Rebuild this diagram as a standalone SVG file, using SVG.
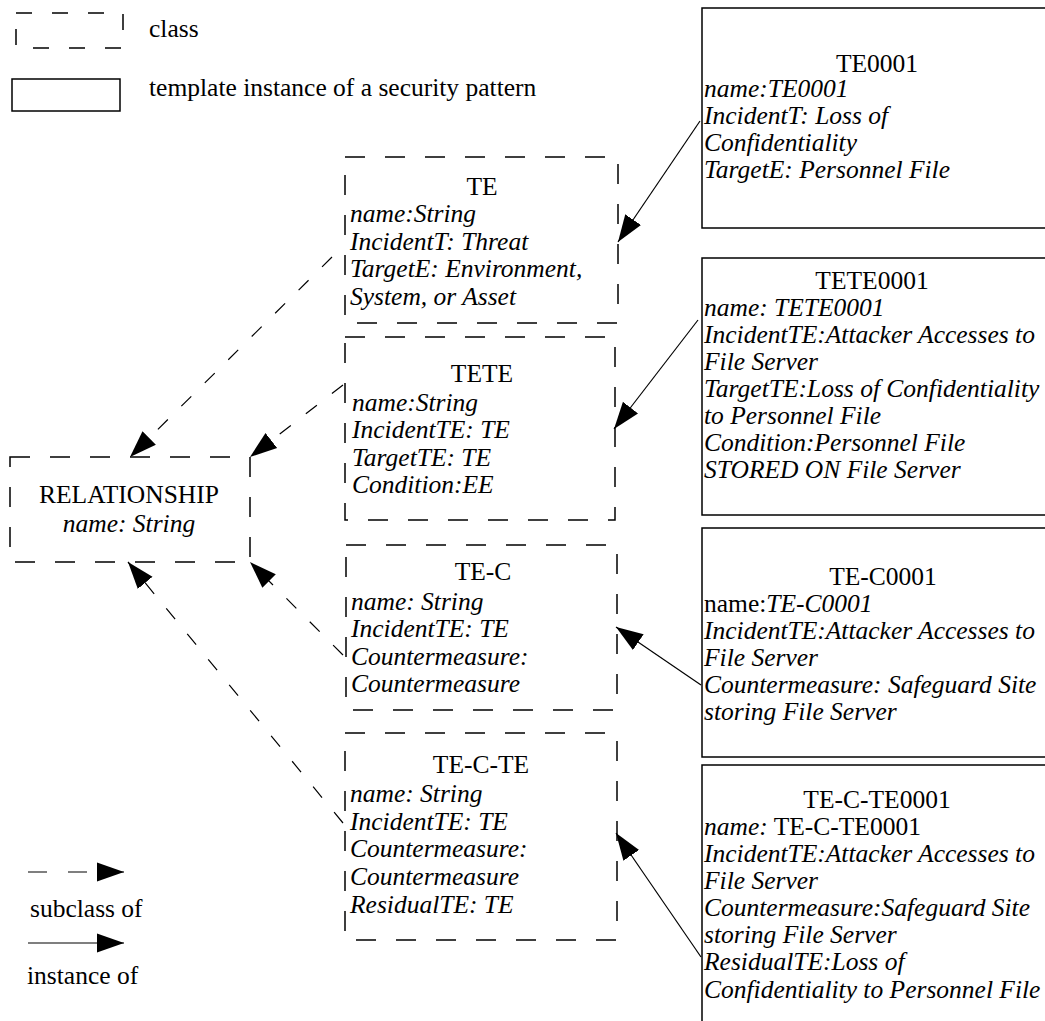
<svg xmlns="http://www.w3.org/2000/svg" width="1045" height="1021" viewBox="0 0 1045 1021">
<defs>
<style>
text{font-family:"Liberation Serif","Times New Roman",serif;font-size:25.5px;fill:#000}
.i{font-style:italic}
.t{text-anchor:middle}
.cls{fill:none;stroke:#000;stroke-width:1.5;stroke-dasharray:20 20}
.inst{fill:#fff;stroke:#000;stroke-width:1.5}
.sub{fill:none;stroke:#000;stroke-width:1.2;stroke-dasharray:14 19}
.ins{fill:none;stroke:#000;stroke-width:1.2}
</style>
<marker id="ah" markerUnits="userSpaceOnUse" markerWidth="28" markerHeight="22" refX="27" refY="11" orient="auto" viewBox="0 0 28 22">
<path d="M0,1.5 L27,11 L0,20.5 Z" fill="#000"/>
</marker>
</defs>
<rect width="1045" height="1021" fill="#fff"/>

<g id="legend">
<rect x="16" y="13" width="107" height="35" fill="none" stroke="#000" stroke-width="1.5" stroke-dasharray="16 20"/>
<text x="149" y="37">class</text>
<rect x="12" y="79" width="108" height="32" class="inst"/>
<text x="149" y="96">template instance of a security pattern</text>
<line x1="28" y1="872" x2="124" y2="872" class="sub" marker-end="url(#ah)" style="stroke-dasharray:19 21"/>
<text x="30" y="917">subclass of</text>
<line x1="28" y1="943" x2="124" y2="943" class="ins" marker-end="url(#ah)"/>
<text x="27" y="984">instance of</text>
</g>

<g id="connectors">
<line x1="332" y1="257" x2="130" y2="457" class="sub" marker-end="url(#ah)"/>
<line x1="343" y1="385" x2="250" y2="457" class="sub" marker-end="url(#ah)"/>
<line x1="343" y1="655" x2="250" y2="562" class="sub" marker-end="url(#ah)"/>
<line x1="343" y1="823" x2="128" y2="562" class="sub" marker-end="url(#ah)"/>
<line x1="700" y1="121" x2="618" y2="242" class="ins" marker-end="url(#ah)"/>
<line x1="698" y1="320" x2="614" y2="429" class="ins" marker-end="url(#ah)"/>
<line x1="701" y1="685" x2="616" y2="627" class="ins" marker-end="url(#ah)"/>
<line x1="701" y1="957" x2="616" y2="833" class="ins" marker-end="url(#ah)"/>
</g>

<g id="relationship">
<rect x="10" y="457" width="240" height="105" class="cls"/>
<text x="129" y="503" class="t">RELATIONSHIP</text>
<text x="129" y="532" class="t i">name: String</text>
</g>

<g id="te">
<rect x="345" y="157" width="273" height="166" class="cls"/>
<text x="482" y="195" class="t">TE</text>
<text x="350" y="222" class="i">name:String</text>
<text x="350" y="250" class="i">IncidentT: Threat</text>
<text x="350" y="277" class="i">TargetE: Environment,</text>
<text x="350" y="305" class="i">System, or Asset</text>
</g>

<g id="tete">
<rect x="345" y="337" width="270" height="183" class="cls"/>
<text x="482" y="382" class="t">TETE</text>
<text x="352" y="411" class="i">name:String</text>
<text x="352" y="438" class="i">IncidentTE: TE</text>
<text x="352" y="466" class="i">TargetTE: TE</text>
<text x="352" y="493" class="i">Condition:EE</text>
</g>

<g id="tec">
<rect x="346" y="545" width="271" height="165" class="cls"/>
<text x="483" y="580" class="t">TE-C</text>
<text x="351" y="610" class="i">name: String</text>
<text x="351" y="637" class="i">IncidentTE: TE</text>
<text x="351" y="665" class="i">Countermeasure:</text>
<text x="351" y="692" class="i">Countermeasure</text>
</g>

<g id="tecte">
<rect x="345" y="733" width="272" height="207" class="cls"/>
<text x="481" y="773" class="t">TE-C-TE</text>
<text x="350" y="802" class="i">name: String</text>
<text x="350" y="830" class="i">IncidentTE: TE</text>
<text x="350" y="857" class="i">Countermeasure:</text>
<text x="350" y="885" class="i">Countermeasure</text>
<text x="350" y="913" class="i">ResidualTE: TE</text>
</g>

<g id="te0001">
<rect x="702" y="8" width="360" height="220" class="inst"/>
<text x="877" y="72" class="t">TE0001</text>
<text x="704" y="97" class="i">name:TE0001</text>
<text x="704" y="124" class="i">IncidentT: Loss of</text>
<text x="704" y="151" class="i">Confidentiality</text>
<text x="704" y="178" class="i">TargetE: Personnel File</text>
</g>

<g id="tete0001">
<rect x="702" y="258" width="360" height="257" class="inst"/>
<text x="872" y="289" class="t">TETE0001</text>
<text x="704" y="316" class="i">name: TETE0001</text>
<text x="704" y="343" class="i">IncidentTE:Attacker Accesses to</text>
<text x="704" y="370" class="i">File Server</text>
<text x="704" y="397" class="i">TargetTE:Loss of Confidentiality</text>
<text x="704" y="424" class="i">to Personnel File</text>
<text x="704" y="451" class="i">Condition:Personnel File</text>
<text x="704" y="478" class="i">STORED ON File Server</text>
</g>

<g id="tec0001">
<rect x="702" y="528" width="360" height="229" class="inst"/>
<text x="883" y="585" class="t">TE-C0001</text>
<text x="704" y="612">name:<tspan class="i">TE-C0001</tspan></text>
<text x="704" y="639" class="i">IncidentTE:Attacker Accesses to</text>
<text x="704" y="666" class="i">File Server</text>
<text x="704" y="693" class="i">Countermeasure: Safeguard Site</text>
<text x="704" y="720" class="i">storing File Server</text>
</g>

<g id="tecte0001">
<rect x="702" y="765" width="360" height="280" class="inst"/>
<text x="877" y="808" class="t">TE-C-TE0001</text>
<text x="704" y="835"><tspan class="i">name:</tspan> TE-C-TE0001</text>
<text x="704" y="862" class="i">IncidentTE:Attacker Accesses to</text>
<text x="704" y="889" class="i">File Server</text>
<text x="704" y="916" class="i">Countermeasure:Safeguard Site</text>
<text x="704" y="943" class="i">storing File Server</text>
<text x="704" y="970" class="i">ResidualTE:Loss of</text>
<text x="704" y="998" class="i">Confidentiality to Personnel File</text>
</g>
</svg>
